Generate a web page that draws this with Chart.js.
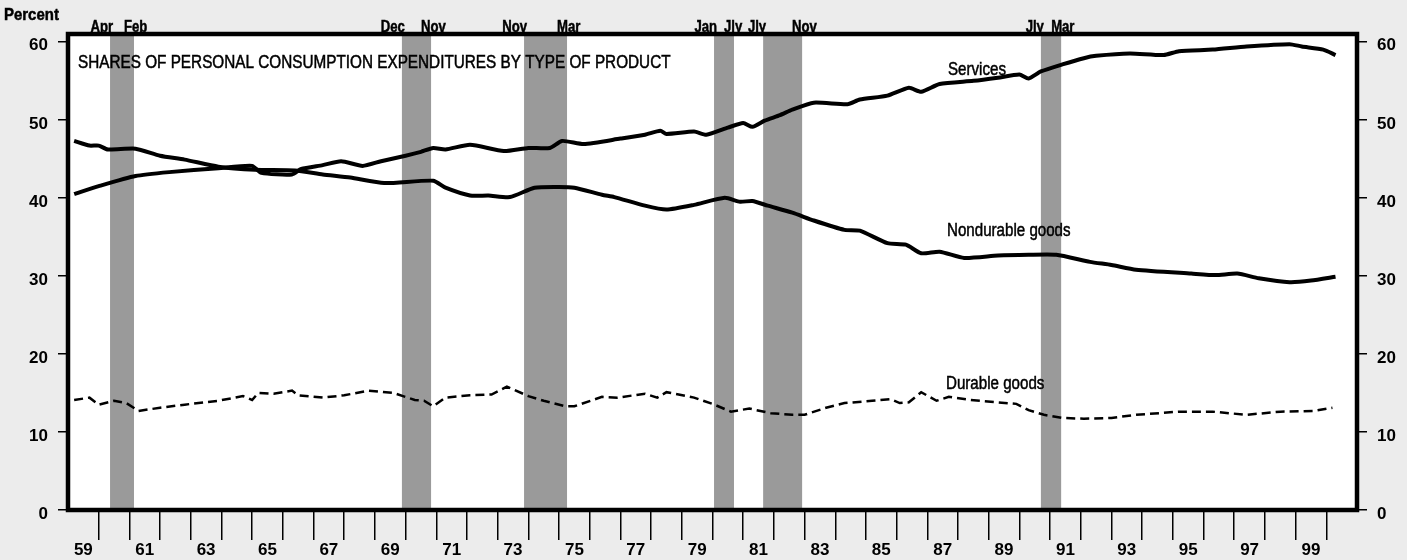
<!DOCTYPE html>
<html>
<head>
<meta charset="utf-8">
<script src="https://cdn.jsdelivr.net/npm/chart.js@4.4.1/dist/chart.umd.min.js"></script>
<style>
  html, body { margin: 0; padding: 0; background: #ececec; }
  #wrap { width: 1407px; height: 560px; position: relative; }
</style>
</head>
<body>
<div id="wrap"><canvas id="pce_chart" width="1407" height="560"></canvas></div>
<script>
// values, [year, percent]
var services = [
    [1959.2, 40.5], [1960.0, 41.5], [1961.2, 42.8], [1962.3, 43.3], [1963.9, 43.8],
    [1965.0, 44.1], [1965.3, 43.2], [1966.3, 43.0], [1966.6, 43.7], [1967.3, 44.2],
    [1967.9, 44.7], [1968.6, 44.1], [1969.2, 44.7], [1970.0, 45.4], [1970.5, 45.9],
    [1970.9, 46.4], [1971.3, 46.2], [1972.1, 46.8], [1973.2, 46.0], [1974.0, 46.4],
    [1974.7, 46.4], [1975.1, 47.3], [1975.8, 46.9], [1977.0, 47.6], [1977.8, 48.1],
    [1978.3, 48.6], [1978.5, 48.2], [1979.4, 48.5], [1979.8, 48.1], [1980.5, 49.0],
    [1981.0, 49.6], [1981.3, 49.1], [1981.7, 49.9], [1982.2, 50.6], [1982.6, 51.3],
    [1983.3, 52.2], [1984.4, 52.0], [1984.8, 52.6], [1985.7, 53.1], [1986.4, 54.1],
    [1986.8, 53.6], [1987.4, 54.6], [1988.5, 55.0], [1989.3, 55.4], [1990.0, 55.8],
    [1990.3, 55.3], [1990.7, 56.2], [1991.4, 57.1], [1992.1, 57.9], [1992.5, 58.2],
    [1993.6, 58.5], [1994.7, 58.3], [1995.2, 58.8], [1996.3, 59.0], [1997.4, 59.4],
    [1998.8, 59.7], [1999.2, 59.4], [1999.9, 59.0], [2000.3, 58.3]
];
var nondurable = [
    [1959.2, 47.3], [1959.7, 46.7], [1960.0, 46.7], [1960.3, 46.2], [1961.2, 46.3],
    [1962.0, 45.4], [1962.8, 44.9], [1963.9, 44.0], [1965.1, 43.6], [1966.4, 43.5],
    [1967.3, 43.0], [1968.2, 42.6], [1969.3, 41.9], [1970.9, 42.2], [1971.3, 41.3],
    [1972.1, 40.3], [1972.7, 40.3], [1973.4, 40.1], [1974.2, 41.3], [1975.0, 41.4],
    [1975.5, 41.3], [1976.4, 40.4], [1976.8, 40.1], [1977.8, 39.0], [1978.5, 38.5],
    [1979.4, 39.1], [1980.4, 40.0], [1980.9, 39.5], [1981.3, 39.6], [1981.8, 39.0],
    [1982.6, 38.1], [1983.3, 37.1], [1984.3, 35.9], [1984.8, 35.8], [1985.7, 34.2],
    [1986.3, 34.0], [1986.8, 32.9], [1987.4, 33.1], [1988.2, 32.3], [1989.3, 32.6],
    [1990.3, 32.7], [1991.2, 32.7], [1992.3, 31.8], [1993.0, 31.4], [1993.8, 30.8],
    [1995.6, 30.3], [1996.4, 30.1], [1997.1, 30.3], [1997.8, 29.7], [1998.8, 29.2],
    [1999.5, 29.4], [2000.3, 29.9]
];
var durable = [
    [1959.2, 14.1], [1959.7, 14.4], [1960.0, 13.5], [1960.5, 14.0], [1960.9, 13.7],
    [1961.3, 12.7], [1962.0, 13.1], [1962.8, 13.5], [1963.9, 14.0], [1964.7, 14.6],
    [1965.0, 14.1], [1965.2, 15.0], [1965.7, 14.9], [1966.3, 15.3], [1966.5, 14.7],
    [1967.3, 14.4], [1968.0, 14.7], [1968.8, 15.3], [1969.6, 15.0], [1970.3, 14.1],
    [1970.6, 14.0], [1970.9, 13.3], [1971.3, 14.4], [1972.1, 14.7], [1972.8, 14.8],
    [1973.3, 15.8], [1974.0, 14.6], [1974.5, 14.0], [1975.2, 13.3], [1975.5, 13.3],
    [1976.4, 14.5], [1976.9, 14.4], [1977.8, 14.9], [1978.2, 14.4], [1978.5, 15.1],
    [1979.4, 14.4], [1980.0, 13.6], [1980.6, 12.6], [1981.2, 13.0], [1981.9, 12.4],
    [1982.6, 12.2], [1983.0, 12.2], [1983.7, 13.1], [1984.3, 13.7], [1985.2, 14.0],
    [1985.8, 14.2], [1986.1, 13.7], [1986.4, 13.8], [1986.8, 15.1], [1987.3, 14.0],
    [1987.7, 14.5], [1988.4, 14.1], [1989.3, 13.8], [1989.9, 13.6], [1990.3, 12.8],
    [1990.8, 12.2], [1991.4, 11.8], [1992.1, 11.7], [1993.0, 11.8], [1993.8, 12.2],
    [1995.2, 12.6], [1996.3, 12.6], [1997.4, 12.2], [1998.5, 12.6], [1999.6, 12.7],
    [2000.2, 13.1]
];

// recession bands
var bandFrom = [1960.37, 1969.88, 1973.86, 1980.05, 1981.65, 1990.70];
var bandTo = [1961.15, 1970.83, 1975.26, 1980.70, 1982.92, 1991.36];
var bandStartLabels = ['Apr', 'Dec', 'Nov', 'Jan', 'Jly', 'Jly'];
var bandEndLabels = ['Feb', 'Nov', 'Mar', 'Jly', 'Nov', 'Mar'];

var yearLabels = ['59', '61', '63', '65', '67', '69', '71', '73', '75', '77', '79',
    '81', '83', '85', '87', '89', '91', '93', '95', '97', '99'];
var percentTicks = [0, 10, 20, 30, 40, 50, 60];

var chartTitle = 'SHARES OF PERSONAL CONSUMPTION EXPENDITURES BY TYPE OF PRODUCT';
var seriesNames = ['Services', 'Nondurable goods', 'Durable goods'];

var FONT = "'Liberation Sans', Arial, Helvetica, sans-serif";

function toPoints(arr) {
    return arr.map(function (p) { return { x: p[0], y: p[1] }; });
}

// condensed, slightly heavy text like the printed original
function condensedText(ctx, text, x, y, font, sx, align) {
    ctx.save();
    ctx.font = font;
    ctx.fillStyle = '#000';
    ctx.strokeStyle = '#000';
    ctx.lineWidth = 0.5;
    ctx.textAlign = align || 'left';
    ctx.textBaseline = 'alphabetic';
    ctx.translate(x, y);
    ctx.scale(sx, 1);
    ctx.fillText(text, 0, 0);
    ctx.strokeText(text, 0, 0);
    ctx.restore();
}

var paperPlugin = {
    id: 'paper',
    beforeDatasetsDraw: function (chart) {
        var ctx = chart.ctx, a = chart.chartArea, xs = chart.scales.x;
        ctx.save();
        ctx.fillStyle = '#ffffff';
        ctx.fillRect(a.left, a.top, a.right - a.left, a.bottom - a.top);
        ctx.fillStyle = '#9a9a9a';
        for (var i = 0; i < bandFrom.length; i++) {
            var x0 = xs.getPixelForValue(bandFrom[i]);
            var x1 = xs.getPixelForValue(bandTo[i]);
            ctx.fillRect(x0, a.top, x1 - x0, a.bottom - a.top);
        }
        ctx.restore();
    },
    afterDatasetsDraw: function (chart) {
        var ctx = chart.ctx, a = chart.chartArea, xs = chart.scales.x;
        // frame
        ctx.save();
        ctx.strokeStyle = '#000';
        ctx.lineWidth = 4.5;
        ctx.strokeRect(a.left, a.top, a.right - a.left, a.bottom - a.top);
        ctx.restore();

        var small = 'bold 16px ' + FONT;
        for (var i = 0; i < bandFrom.length; i++) {
            var x0 = xs.getPixelForValue(bandFrom[i]);
            var x1 = xs.getPixelForValue(bandTo[i]);
            condensedText(ctx, bandStartLabels[i], x0 + 3, 32, small, 0.82, 'right');
            condensedText(ctx, bandEndLabels[i], x1 - 10, 32, small, 0.82, 'left');
        }
        condensedText(ctx, 'Percent', 4, 20, 'bold 17px ' + FONT, 0.88, 'left');
        condensedText(ctx, chartTitle, 78, 68, '18px ' + FONT, 0.85, 'left');
        condensedText(ctx, seriesNames[0], 948, 75, '18px ' + FONT, 0.84, 'left');
        condensedText(ctx, seriesNames[1], 947, 236, '18px ' + FONT, 0.84, 'left');
        condensedText(ctx, seriesNames[2], 946, 389, '18px ' + FONT, 0.84, 'left');
    }
};

var chartData = {
    datasets: [{
        label: seriesNames[0],
        data: toPoints(services),
        borderColor: '#000000',
        borderWidth: 4,
        pointRadius: 0,
        tension: 0.2,
        yAxisID: 'y'
    }, {
        label: seriesNames[1],
        data: toPoints(nondurable),
        borderColor: '#000000',
        borderWidth: 4,
        pointRadius: 0,
        tension: 0.2,
        yAxisID: 'y'
    }, {
        label: seriesNames[2],
        data: toPoints(durable),
        borderColor: '#000000',
        borderWidth: 2.5,
        borderDash: [9, 5],
        pointRadius: 0,
        tension: 0,
        yAxisID: 'y'
    }]
};

function yAxis(pos, width) {
    return {
        type: 'linear',
        position: pos,
        min: 0,
        max: 61,
        afterBuildTicks: function (scale) {
            scale.ticks = percentTicks.map(function (v) { return { value: v }; });
        },
        afterFit: function (scale) { scale.width = width; },
        border: { display: false },
        grid: {
            drawOnChartArea: false,
            drawTicks: true,
            tickLength: 10,
            color: '#000',
            lineWidth: 1.5
        },
        ticks: {
            color: '#000',
            font: { family: FONT, size: 17, weight: 'bold' },
            padding: 10,
            labelOffset: 4
        }
    };
}

var chartOptions = {
    responsive: false,
    animation: false,
    layout: { padding: { top: 34, left: 0, right: 0, bottom: 0 } },
    plugins: {
        legend: { display: false },
        tooltip: { enabled: false }
    },
    scales: {
        x: {
            type: 'linear',
            min: 1959,
            max: 2001,
            afterBuildTicks: function (scale) {
                var t = [];
                for (var i = 0; i < yearLabels.length; i++) {
                    t.push({ value: 1959.5 + 2 * i });
                }
                for (var y = 1960; y <= 2000; y++) t.push({ value: y });
                t.sort(function (a, b) { return a.value - b.value; });
                scale.ticks = t;
            },
            afterFit: function (scale) { scale.height = 50; },
            border: { display: false },
            grid: {
                drawOnChartArea: false,
                drawTicks: true,
                tickLength: 30,
                lineWidth: 1.5,
                tickColor: function (c) {
                    return (c.tick && c.tick.value % 1 === 0) ? '#000' : 'rgba(0,0,0,0)';
                }
            },
            ticks: {
                color: '#000',
                autoSkip: false,
                maxRotation: 0,
                padding: 0,
                font: { family: FONT, size: 17, weight: 'bold' },
                callback: function (v) {
                    if (v % 1 === 0) return '';
                    return yearLabels[Math.round((v - 1959.5) / 2)];
                }
            }
        },
        y: yAxis('left', 68),
        y2: yAxis('right', 50)
    }
};

var canvas = document.getElementById('pce_chart').getContext('2d');
var chart = new Chart(canvas, {
    type: 'line',
    data: chartData,
    options: chartOptions,
    plugins: [paperPlugin]
});
</script>
</body>
</html>
